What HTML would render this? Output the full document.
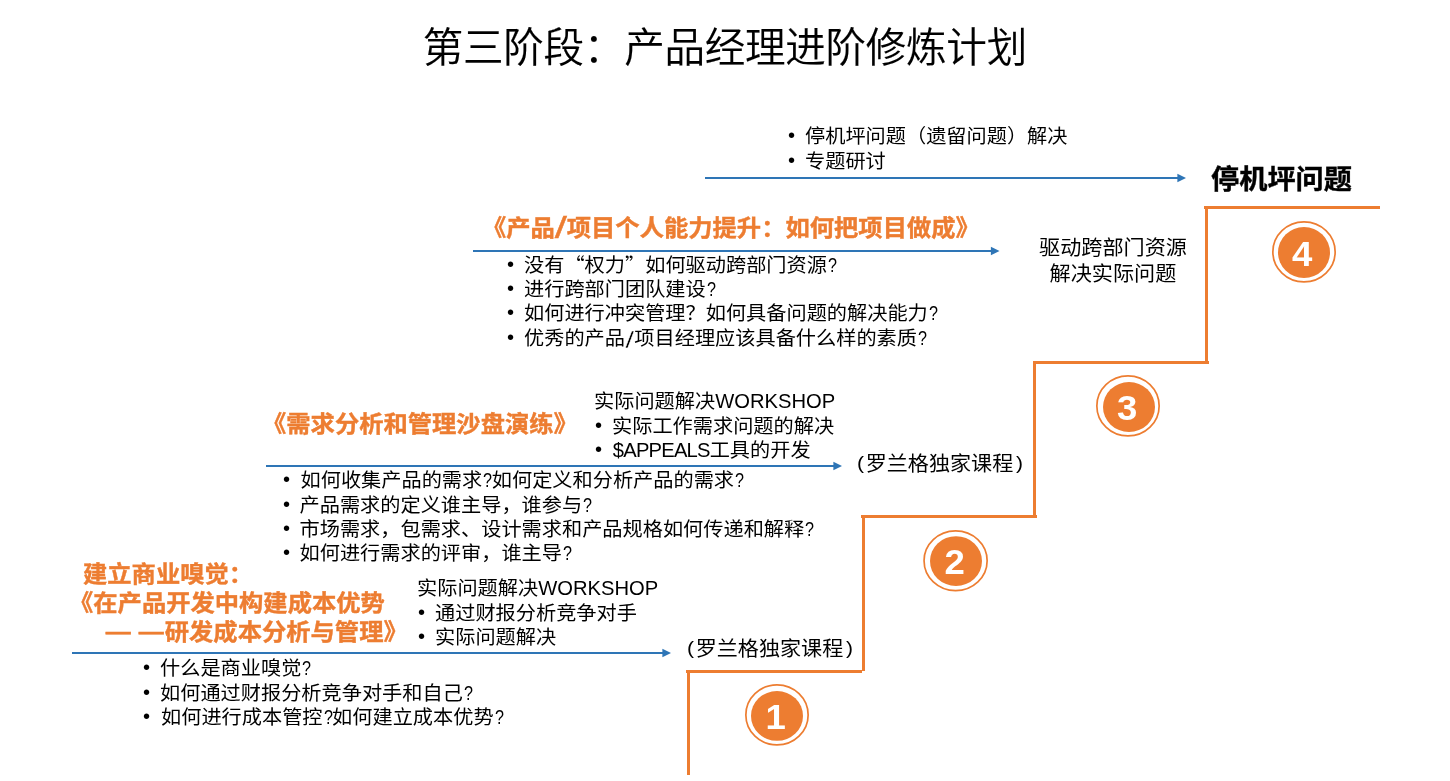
<!DOCTYPE html>
<html lang="zh-CN">
<head>
<meta charset="utf-8">
<title>第三阶段：产品经理进阶修炼计划</title>
<style>
html,body{margin:0;padding:0;background:#fff;}
body{width:1450px;height:781px;position:relative;overflow:hidden;font-family:'Liberation Sans','Noto Sans CJK SC',sans-serif;color:#000;}
#slide{position:absolute;left:0;top:0;width:1450px;height:781px;will-change:transform;}
.t,.title{position:absolute;white-space:nowrap;font-weight:400;color:#000;margin:0;padding:0;}
.t{line-height:30px;height:30px;transform:scaleY(0.955);transform-origin:0 50%;}
.title{font-size:40.6px;line-height:50px;text-align:center;letter-spacing:-0.3px;text-indent:-0.3px;font-weight:350;-webkit-text-stroke:0.15px #000;}
.h{font-weight:700;color:#ED7D31;-webkit-text-stroke:0.4px #ED7D31;}
.bold{font-weight:700;-webkit-text-stroke:0.4px #000;}
.b{display:inline-block;text-align:left;font-family:'Liberation Sans',sans-serif;position:relative;top:-1px;}
.q{font-family:'Noto Sans CJK SC',sans-serif;}
.sl{display:inline-block;width:9.4px;text-align:center;-webkit-text-stroke:0.4px #fff;transform:translateY(1.5px) scale(1.59,1.26);}
.d{font-family:'Noto Sans CJK SC',sans-serif;display:inline-block;width:26.5px;text-align:center;transform:scaleX(1.27);}
.sh{display:inline-block;width:1px;}
.qm{display:inline-block;width:9.6px;text-align:center;transform:scaleX(0.8);}
.p{display:inline-block;position:relative;top:-1px;transform:scaleY(0.92);}
.pm{margin:0 2.8px 0 1.6px;}
.slh{width:11.9px;font-weight:400;-webkit-text-stroke:0.3px #ED7D31;transform:translateY(1px) scale(1.8,1.238);}
.ap{letter-spacing:-0.8px;margin-left:0.8px;}
svg{position:absolute;left:0;top:0;}
.num{font-family:'Liberation Sans',sans-serif;font-weight:700;font-size:34.5px;fill:#fff;}
</style>
</head>
<body>
<div id="slide">
<svg width="1450" height="781" viewBox="0 0 1450 781">
<rect x="687" y="671" width="3" height="104" fill="#ED7D31"/>
<rect x="686" y="670" width="176" height="3" fill="#ED7D31"/>
<rect x="862" y="516" width="3" height="155" fill="#ED7D31"/>
<rect x="861" y="515" width="176" height="3" fill="#ED7D31"/>
<rect x="1033" y="362" width="3" height="154" fill="#ED7D31"/>
<rect x="1033" y="361" width="176" height="3" fill="#ED7D31"/>
<rect x="1205" y="207" width="3" height="155" fill="#ED7D31"/>
<rect x="1204" y="206" width="176" height="3" fill="#ED7D31"/>
<rect x="705" y="177" width="473" height="2" fill="#2E75B6"/>
<polygon points="1177.4,173.7 1186,178 1177.4,182.3" fill="#2E75B6"/>
<rect x="473" y="250" width="518.5" height="2" fill="#2E75B6"/>
<polygon points="990.9,246.7 999.5,251 990.9,255.3" fill="#2E75B6"/>
<rect x="266" y="465" width="568" height="2" fill="#2E75B6"/>
<polygon points="833.4,461.7 842,466 833.4,470.3" fill="#2E75B6"/>
<rect x="72" y="652" width="591" height="2" fill="#2E75B6"/>
<polygon points="662.4,648.7 671,653 662.4,657.3" fill="#2E75B6"/>
<ellipse cx="777.00" cy="714.90" rx="31.15" ry="30.05" fill="none" stroke="#ED7D31" stroke-width="1.7"/>
<ellipse cx="777.00" cy="715.90" rx="26.00" ry="24.90" fill="#ED7D31"/>
<text transform="translate(775.6,729) scale(1.06,1)" class="num" text-anchor="middle">1</text>
<ellipse cx="955.60" cy="560.75" rx="31.55" ry="29.90" fill="none" stroke="#ED7D31" stroke-width="1.7"/>
<ellipse cx="956.00" cy="561.10" rx="26.00" ry="24.90" fill="#ED7D31"/>
<text transform="translate(954.6,574) scale(1.06,1)" class="num" text-anchor="middle">2</text>
<ellipse cx="1128.00" cy="405.90" rx="31.15" ry="30.05" fill="none" stroke="#ED7D31" stroke-width="1.7"/>
<ellipse cx="1129.00" cy="407.00" rx="26.00" ry="25.00" fill="#ED7D31"/>
<text transform="translate(1127.2,420) scale(1.06,1)" class="num" text-anchor="middle">3</text>
<ellipse cx="1304.00" cy="251.90" rx="31.15" ry="30.05" fill="none" stroke="#ED7D31" stroke-width="1.7"/>
<ellipse cx="1304.00" cy="252.50" rx="26.00" ry="25.50" fill="#ED7D31"/>
<text transform="translate(1302.2,266) scale(1.06,1)" class="num" text-anchor="middle">4</text>
</svg>
<div class="title" style="left:0;top:23px;width:1450px;">第三阶段：产品经理进阶修炼计划</div>
<div class="t " style="left:788px;top:121px;font-size:20.2px;"><span class="b" style="width:17px">•</span>停机坪问题（遗留问题）解决</div>
<div class="t " style="left:788px;top:146px;font-size:20.2px;"><span class="b" style="width:17px">•</span>专题研讨</div>
<div class="t bold" style="left:1211px;top:164px;font-size:28.2px;">停机坪问题</div>
<div class="t h" style="left:482px;top:213px;font-size:24.3px;">《产品<span class="sl slh">/</span>项目个人能力提升：如何把项目做成》</div>
<div class="t " style="left:507px;top:249px;font-size:20.2px;"><span class="b" style="width:17px">•</span>没有<span class="q">“</span>权力<span class="q">”</span>如何驱动跨部门资源<span class="qm">?</span></div>
<div class="t " style="left:507px;top:274px;font-size:20.2px;"><span class="b" style="width:17px">•</span>进行跨部门团队建设<span class="qm">?</span></div>
<div class="t " style="left:507px;top:298px;font-size:20.2px;"><span class="b" style="width:17px">•</span>如何进行冲突管理？如何具备问题的解决能力<span class="qm">?</span></div>
<div class="t " style="left:507px;top:323px;font-size:20.2px;"><span class="b" style="width:17px">•</span>优秀的产品<span class="sl">/</span>项目经理应该具备什么样的素质<span class="qm">?</span></div>
<div class="t " style="left:1013px;top:233px;font-size:21.14px;width:200px;text-align:center;">驱动跨部门资源</div>
<div class="t " style="left:1013px;top:259px;font-size:21.14px;width:200px;text-align:center;">解决实际问题</div>
<div class="t h" style="left:262px;top:409px;font-size:24.3px;">《需求分析和管理沙盘演练》</div>
<div class="t " style="left:594px;top:386px;font-size:20.2px;">实际问题解决WORKSHOP</div>
<div class="t " style="left:595px;top:411px;font-size:20.2px;"><span class="b" style="width:17px">•</span>实际工作需求问题的解决</div>
<div class="t " style="left:595px;top:435px;font-size:20.2px;"><span class="b" style="width:17px">•</span><span class="ap">$APPEALS</span>工具的开发</div>
<div class="t " style="left:857px;top:449px;font-size:21.1px;"><span class="p">(</span><span class="pm">罗兰格独家课程</span><span class="p">)</span></div>
<div class="t " style="left:283px;top:465px;font-size:20.2px;"><span class="b" style="width:16.5px">•</span><span class="sh"></span>如何收集产品的需求<span class="qm">?</span>如何定义和分析产品的需求<span class="qm">?</span></div>
<div class="t " style="left:283px;top:490px;font-size:20.2px;"><span class="b" style="width:16.5px">•</span>产品需求的定义谁主导，谁参与<span class="qm">?</span></div>
<div class="t " style="left:283px;top:514px;font-size:20.2px;"><span class="b" style="width:16.5px">•</span>市场需求，包需求、设计需求和产品规格如何传递和解释<span class="qm">?</span></div>
<div class="t " style="left:283px;top:538px;font-size:20.2px;"><span class="b" style="width:16.5px">•</span>如何进行需求的评审，谁主导<span class="qm">?</span></div>
<div class="t h" style="left:83px;top:559px;font-size:24.3px;">建立商业嗅觉：</div>
<div class="t h" style="left:69px;top:588px;font-size:24.3px;">《在产品开发中构建成本优势</div>
<div class="t h" style="left:105px;top:615px;font-size:24.3px;"><span class="d">—</span> <span class="d">—</span>研发成本分析与管理》</div>
<div class="t " style="left:417px;top:573px;font-size:20.2px;">实际问题解决WORKSHOP</div>
<div class="t " style="left:418px;top:598px;font-size:20.2px;"><span class="b" style="width:17px">•</span>通过财报分析竞争对手</div>
<div class="t " style="left:418px;top:622px;font-size:20.2px;"><span class="b" style="width:17px">•</span>实际问题解决</div>
<div class="t " style="left:687px;top:634px;font-size:21.1px;"><span class="p">(</span><span class="pm">罗兰格独家课程</span><span class="p">)</span></div>
<div class="t " style="left:143px;top:653px;font-size:20.2px;"><span class="b" style="width:17px">•</span>什么是商业嗅觉<span class="qm">?</span></div>
<div class="t " style="left:143px;top:678px;font-size:20.2px;"><span class="b" style="width:17px">•</span>如何通过财报分析竞争对手和自己<span class="qm">?</span></div>
<div class="t " style="left:143px;top:702px;font-size:20.2px;"><span class="b" style="width:17px">•</span><span class="sh"></span>如何进行成本管控<span class="qm">?</span>如何建立成本优势<span class="qm">?</span></div>
</div>
</body>
</html>
